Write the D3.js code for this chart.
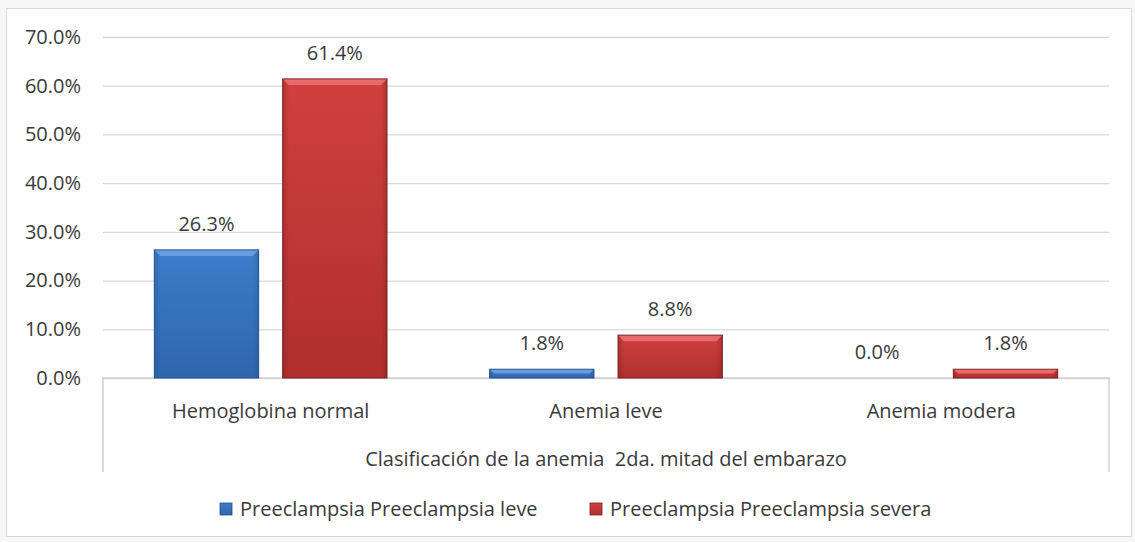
<!DOCTYPE html>
<html>
<head>
<meta charset="utf-8">
<script src="https://cdn.jsdelivr.net/npm/d3@7"></script>
<style>
  body { margin: 0; background: #f7f7f7; }
  svg text { font-family: "Open Sans", sans-serif; fill: #3a3a3a; }
</style>
</head>
<body>
<div id="chart"></div>
<script>
let categories = ["Hemoglobina normal", "Anemia leve", "Anemia modera"];
let seriesNames = ["Preeclampsia Preeclampsia leve", "Preeclampsia Preeclampsia severa"];
let leveValues = [0.263, 0.018, 0.0];
let severaValues = [0.614, 0.088, 0.018];
let yTicks = [0, 0.1, 0.2, 0.3, 0.4, 0.5, 0.6, 0.7];
let axisTitle = "Clasificación de la anemia  2da. mitad del embarazo";

let width = 1135, height = 542;
let plotLeft = 103, plotRight = 1109, plotTop = 37, plotBottom = 378;
let fontSize = "20px";

let svg = d3.select("#chart")
    .append("svg")
    .attr("width", width)
    .attr("height", height);

// bevel-ish gradients
let defs = svg.append("defs");
let palettes = [
    {id: "blue", light: "#6ea3e2", mid: "#3d7dca", dark: "#2e66ad", edge: "#234f87"},
    {id: "red", light: "#ec7272", mid: "#d0403f", dark: "#b02f2f", edge: "#7a1f1f"}
];
palettes.forEach(p => {
    let g = defs.append("linearGradient")
        .attr("id", "grad-" + p.id)
        .attr("x1", 0).attr("y1", 0).attr("x2", 0).attr("y2", 1);
    g.append("stop").attr("offset", "0%").attr("stop-color", p.mid);
    g.append("stop").attr("offset", "100%").attr("stop-color", p.dark);
    let h = defs.append("linearGradient")
        .attr("id", "side-" + p.id)
        .attr("x1", 0).attr("y1", 0).attr("x2", 1).attr("y2", 0);
    h.append("stop").attr("offset", "0%").attr("stop-color", p.edge).attr("stop-opacity", 0.35);
    h.append("stop").attr("offset", "6%").attr("stop-color", p.edge).attr("stop-opacity", 0);
    h.append("stop").attr("offset", "94%").attr("stop-color", p.edge).attr("stop-opacity", 0);
    h.append("stop").attr("offset", "100%").attr("stop-color", p.edge).attr("stop-opacity", 0.35);
});

// chart frame
svg.append("rect")
    .attr("x", 6.5).attr("y", 8.5)
    .attr("width", 1125).attr("height", 528)
    .attr("fill", "#ffffff")
    .attr("stroke", "#d9d9d9");

let y = d3.scaleLinear()
    .domain([0, 0.7])
    .range([plotBottom, plotTop]);

let x0 = d3.scaleBand()
    .domain(categories)
    .range([plotLeft, plotRight]);

let x1 = d3.scaleBand()
    .domain([0, 1])
    .range([0, x0.bandwidth()])
    .paddingInner(0.1875)
    .paddingOuter(0.4);

// gridlines
let yAxis = d3.axisLeft(y)
    .tickValues(yTicks)
    .tickSize(-(plotRight - plotLeft))
    .tickFormat(d3.format(".1%"))
    .tickPadding(22);

let gy = svg.append("g")
    .attr("transform", "translate(" + plotLeft + ",0)")
    .call(yAxis);
gy.select(".domain").remove();
gy.selectAll(".tick line")
    .attr("stroke", "#d9d9d9")
    .attr("stroke-width", 1.3);
gy.selectAll(".tick text")
    .style("font-size", fontSize)
    .attr("fill", "#3a3a3a");

// category box
svg.append("path")
    .attr("d", "M" + plotLeft + "," + 472 + "V" + plotBottom + "H" + plotRight + "V" + 472)
    .attr("fill", "none")
    .attr("stroke", "#d0d0d0")
    .attr("stroke-width", 1.5);

let series = [leveValues, severaValues];

series.forEach((vals, si) => {
    let p = palettes[si];
    let grp = svg.append("g").attr("class", "series-" + si);

    let bars = grp.selectAll(".bar")
        .data(vals.map((v, i) => ({cat: categories[i], v: v})))
        .enter()
        .append("g")
        .attr("class", "bar")
        .filter(d => d.v > 0);

    bars.append("rect")
        .attr("x", d => x0(d.cat) + x1(si))
        .attr("y", d => y(d.v))
        .attr("width", x1.bandwidth())
        .attr("height", d => plotBottom - y(d.v))
        .attr("fill", "url(#grad-" + p.id + ")")
        .attr("stroke", p.edge)
        .attr("stroke-width", 1);

    bars.append("rect")
        .attr("x", d => x0(d.cat) + x1(si))
        .attr("y", d => y(d.v))
        .attr("width", x1.bandwidth())
        .attr("height", d => plotBottom - y(d.v))
        .attr("fill", "url(#side-" + p.id + ")");

    // top bevel
    bars.append("path")
        .attr("d", d => {
            let bx = x0(d.cat) + x1(si), bw = x1.bandwidth(), by = y(d.v);
            let h = Math.min(6, (plotBottom - by) / 2);
            return "M" + (bx + 0.5) + "," + (by + 0.5) + "H" + (bx + bw - 0.5) +
                "L" + (bx + bw - h) + "," + (by + h) + "H" + (bx + h) + "Z";
        })
        .attr("fill", p.light)
        .attr("opacity", 0.85);

    grp.selectAll(".label")
        .data(vals.map((v, i) => ({cat: categories[i], v: v})))
        .enter()
        .append("text")
        .attr("x", d => x0(d.cat) + x1(si) + x1.bandwidth() / 2)
        .attr("y", d => y(d.v) - 19)
        .attr("text-anchor", "middle")
        .style("font-size", fontSize)
        .text(d => d3.format(".1%")(d.v));
});

// category labels
svg.selectAll(".catlabel")
    .data(categories)
    .enter()
    .append("text")
    .attr("x", d => x0(d) + x0.bandwidth() / 2)
    .attr("y", 418)
    .attr("text-anchor", "middle")
    .style("font-size", fontSize)
    .text(d => d);

svg.append("text")
    .attr("x", (plotLeft + plotRight) / 2)
    .attr("y", 466)
    .attr("text-anchor", "middle")
    .style("font-size", fontSize)
    .style("white-space", "pre")
    .text(axisTitle);

// legend
let legendX = [220, 590];
seriesNames.forEach((name, i) => {
    let p = palettes[i];
    svg.append("rect")
        .attr("x", legendX[i])
        .attr("y", 503)
        .attr("width", 12)
        .attr("height", 12)
        .attr("fill", "url(#grad-" + p.id + ")")
        .attr("stroke", p.edge)
        .attr("stroke-width", 0.8);
    svg.append("text")
        .attr("x", legendX[i] + 20)
        .attr("y", 516)
        .style("font-size", fontSize)
        .text(name);
});
</script>
</body>
</html>
